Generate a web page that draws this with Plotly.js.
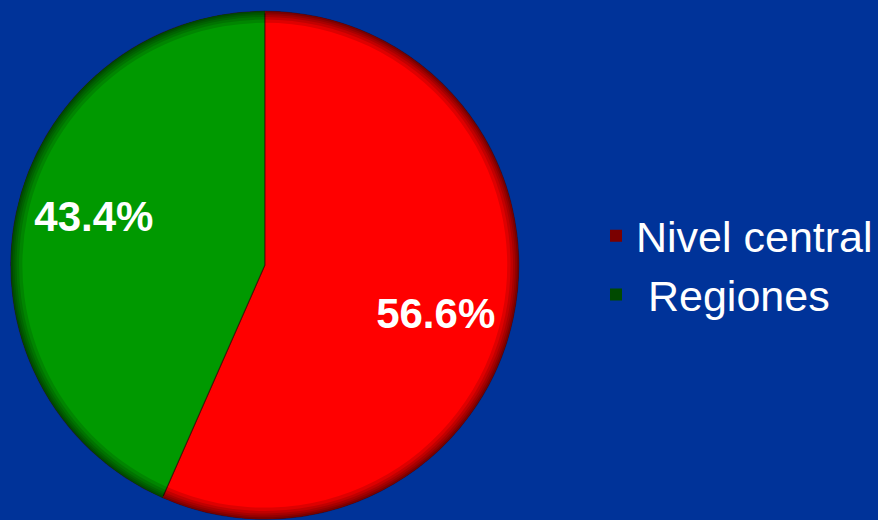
<!DOCTYPE html>
<html><head><meta charset="utf-8">
<script src="https://cdn.plot.ly/plotly-3.0.1.min.js"></script>
<style>html,body{margin:0;padding:0;background:#003399;}</style>
</head><body>
<div id="chart" style="width:878px;height:520px;"></div>
<script>
const labels = ["Nivel central", " Regiones"];
const values = [56.6, 43.4];
const sliceColors = ["#ff0000", "#009900"];
const rimColors = ["#7a0000", "#004a00"];
const shadeHoles = [0.955, 0.968, 0.978, 0.986];

const dom = {x: [11/878, 521/878], y: [0, 0.98]};
const common = {type: "pie", labels: labels, values: values, sort: false,
  direction: "clockwise", rotation: 0, domain: dom, hoverinfo: "none"};

const traces = [];
traces.push(Object.assign({}, common, {
  marker: {colors: sliceColors, line: {color: "rgba(60,0,0,0.55)", width: 1.2}},
  textinfo: "none", showlegend: false
}));
shadeHoles.forEach(h => {
  traces.push(Object.assign({}, common, {
    hole: h, marker: {colors: ["rgba(0,0,0,0.13)", "rgba(0,0,0,0.13)"], line: {width: 0}},
    textinfo: "none", showlegend: false
  }));
});
traces.push(Object.assign({}, common, {
  hole: 0.993, marker: {colors: rimColors, line: {width: 0}},
  textinfo: "none", showlegend: true
}));
// transparent ring carrying the percentage labels
traces.push(Object.assign({}, common, {
  hole: 0.4, rotation: 4, marker: {colors: ["rgba(0,0,0,0)", "rgba(0,0,0,0)"], line: {width: 0}},
  texttemplate: "%{percent:.1%}", textposition: "inside", insidetextorientation: "horizontal",
  textfont: {family: "Liberation Sans, Arial, sans-serif", size: 42, color: "#ffffff", weight: "bold"},
  showlegend: false
}));

const layout = {
  width: 878, height: 520,
  paper_bgcolor: "#003399", plot_bgcolor: "#003399",
  margin: {l: 0, r: 0, t: 0, b: 0},
  legend: {x: 0.682, y: 0.49, xanchor: "left", yanchor: "middle",
    font: {family: "Liberation Sans, Arial, sans-serif", size: 43, color: "#ffffff"},
    itemwidth: 30, bgcolor: "rgba(0,0,0,0)"},
  showlegend: true
};
Plotly.newPlot("chart", traces, layout, {staticPlot: true});
</script>
</body></html>
